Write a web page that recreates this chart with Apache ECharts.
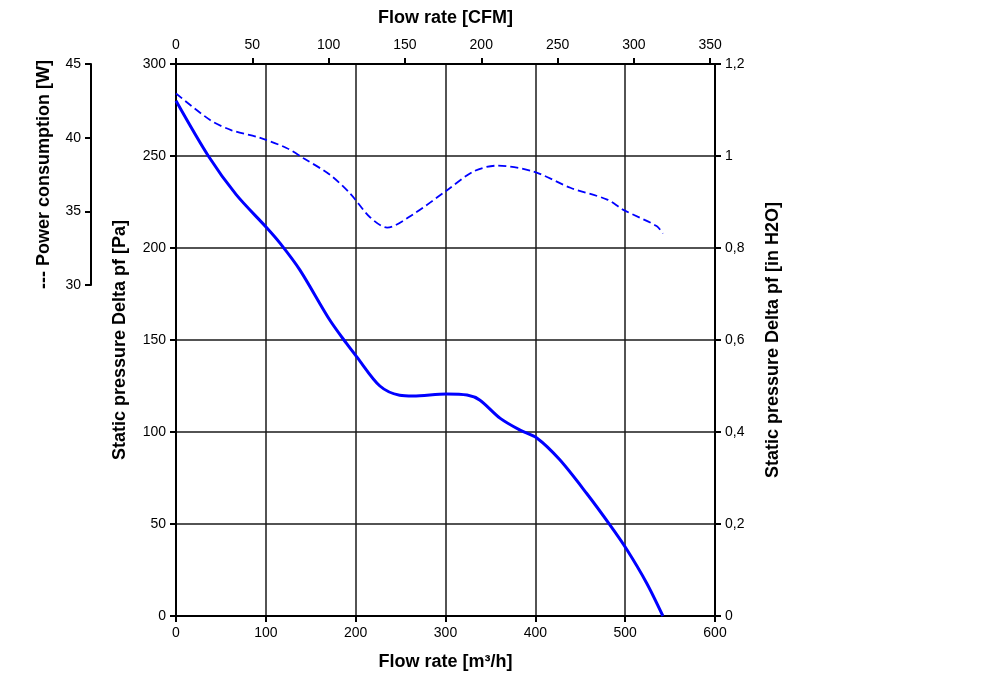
<!DOCTYPE html>
<html>
<head>
<meta charset="utf-8">
<script src="https://cdn.jsdelivr.net/npm/echarts@6/dist/echarts.min.js"></script>
<style>
  html, body { margin: 0; padding: 0; background: #fff; }
  #chart { width: 1000px; height: 683px; }
</style>
</head>
<body>
<div id="chart"></div>
<script>
// static pressure curve [flow m3/h, Pa]
const pressureData = [
  [0, 280], [36, 250], [67, 229], [101, 211], [116, 202.5], [138, 188],
  [171, 161], [190, 148], [201, 141], [227, 125], [249, 120], [264, 119.6],
  [301, 120.7], [324, 120.1], [338, 117.4], [361, 107.4], [383, 101],
  [402, 96.6], [427, 85], [457, 66.7], [483, 49.5], [502, 36], [524, 17.8], [542, 0]
]
// power consumption curve [flow m3/h, W]
const powerData = [
  [0, 43.0], [38, 41.2], [62, 40.5], [93, 40.0], [123, 39.3], [142, 38.6],
  [171, 37.5], [194, 36.2], [216, 34.6], [235, 33.9], [264, 34.8], [301, 36.4],
  [331, 37.7], [357, 38.1], [398, 37.7], [439, 36.6], [480, 35.8], [498, 35.1],
  [535, 34.0], [542, 33.5]
]
// top axis ticks in CFM
const cfmTicks = [0, 50, 100, 150, 200, 250, 300, 350]

const font = 'Liberation Sans, Arial, sans-serif'
const lbl = { color: '#000', fontSize: 14, fontFamily: font }
const nameStyle = { color: '#000', fontSize: 18, fontWeight: 'bold', fontFamily: font }
const line = { show: true, onZero: false, lineStyle: { color: '#000', width: 2 } }
const tick = { show: true, length: 6, lineStyle: { color: '#000', width: 2 } }
const split = { show: true, lineStyle: { color: '#1a1a1a', width: 1.5 } }

const chart = echarts.init(document.getElementById('chart'))
chart.setOption({
  animation: false,
  grid: [
    { left: 176, right: 285, top: 64, bottom: 67 },
    { left: 176, right: 285, top: 64, bottom: 398 }
  ],
  xAxis: [
    {
      type: 'value', gridIndex: 0, position: 'bottom', min: 0, max: 600, interval: 100,
      name: 'Flow rate [m³/h]', nameLocation: 'middle', nameGap: 37, nameTextStyle: nameStyle,
      axisLine: line, axisTick: tick, splitLine: split, axisLabel: { ...lbl, margin: 10 }
    },
    {
      type: 'value', gridIndex: 0, position: 'top', min: 0, max: 600 / 1.699, interval: 50,
      name: 'Flow rate [CFM]', nameLocation: 'middle', nameGap: 37, nameTextStyle: nameStyle,
      axisLine: line, axisTick: { ...tick, customValues: cfmTicks }, splitLine: { show: false },
      axisLabel: { ...lbl, margin: 12, customValues: cfmTicks }
    },
    { type: 'value', gridIndex: 1, min: 0, max: 600, show: false }
  ],
  yAxis: [
    {
      type: 'value', gridIndex: 0, position: 'left', min: 0, max: 300, interval: 50,
      name: 'Static pressure Delta pf [Pa]', nameLocation: 'middle', nameGap: 47, nameTextStyle: nameStyle,
      axisLine: line, axisTick: tick, splitLine: split, axisLabel: { ...lbl, margin: 10 }
    },
    {
      type: 'value', gridIndex: 0, position: 'right', min: 0, max: 1.2, interval: 0.2,
      name: 'Static pressure Delta pf [in H2O]', nameLocation: 'middle', nameGap: 49, nameRotate: 90,
      nameTextStyle: nameStyle,
      axisLine: line, axisTick: tick, splitLine: { show: false },
      axisLabel: { ...lbl, margin: 10, formatter: v => String(Math.round(v * 10) / 10).replace('.', ',') }
    },
    {
      type: 'value', gridIndex: 1, position: 'left', offset: 85, min: 30, max: 45, interval: 5,
      name: '--- Power consumption [W]', nameLocation: 'middle', nameGap: 38, nameTextStyle: nameStyle,
      axisLine: line, axisTick: tick, splitLine: { show: false }, axisLabel: { ...lbl, margin: 10 }
    }
  ],
  series: [
    {
      name: 'Static pressure', type: 'line', xAxisIndex: 0, yAxisIndex: 0,
      smooth: 0.3, symbol: 'none', data: pressureData,
      lineStyle: { color: '#0000ff', width: 3 }
    },
    {
      name: 'Power consumption', type: 'line', xAxisIndex: 2, yAxisIndex: 2,
      smooth: 0.3, symbol: 'none', data: powerData,
      lineStyle: { color: '#0000ff', width: 1.8, type: [8, 4] }
    }
  ]
})
</script>
</body>
</html>
